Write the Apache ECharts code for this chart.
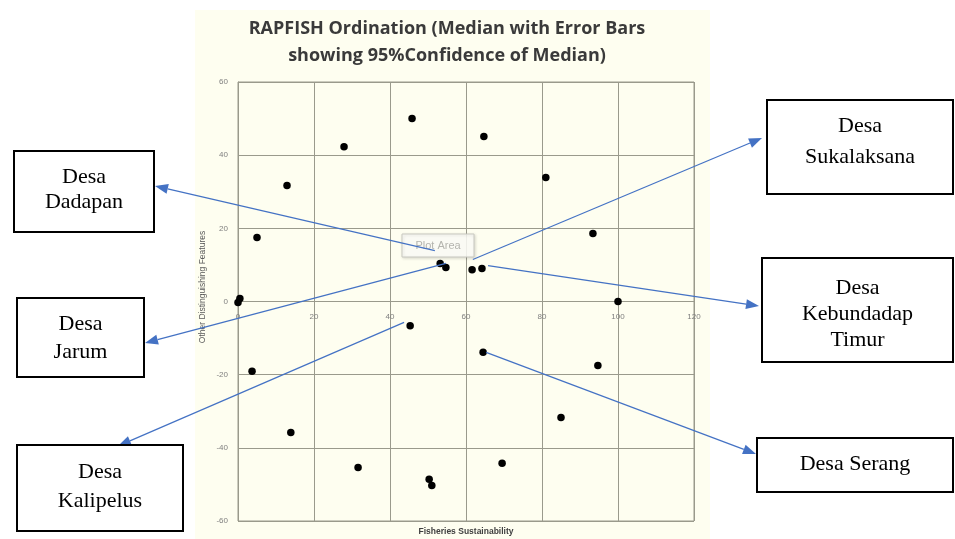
<!DOCTYPE html>
<html>
<head>
<meta charset="utf-8">
<script src="https://cdn.jsdelivr.net/npm/echarts@6/dist/echarts.min.js"></script>
<style>
  html, body { margin: 0; padding: 0; background: #ffffff; }
  #chart { width: 955px; height: 539px; }
</style>
</head>
<body>
<div id="chart"></div>
<script>
// RAPFISH ordination scores: fisheries sustainability (x) vs other distinguishing features (y)
const sustainability = [0.5, 0, 5, 12.9, 27.9, 45.8, 64.7, 81, 93.4, 100,
  53.2, 54.7, 61.6, 64.2, 45.3, 3.7, 13.9, 31.6, 50.3, 51, 64.5, 94.7, 85, 69.5];
const otherFeatures = [0.8, -0.3, 17.5, 31.7, 42.3, 50, 45.1, 33.9, 18.6, 0,
  10.4, 9.3, 8.7, 9.0, -6.6, -19.1, -35.8, -45.4, -48.6, -50.3, -13.9, -17.5, -31.7, -44.2];

const xRange = [0, 120];
const yRange = [-60, 60];
const tickStep = 20;

// Village names shown in the callout boxes
const villages = [
  ['Desa', 'Dadapan'],
  ['Desa', 'Jarum'],
  ['Desa', 'Kalipelus'],
  ['Desa', 'Sukalaksana'],
  ['Desa', 'Kebundadap', 'Timur'],
  ['Desa Serang']
];
// Where each callout arrow starts, in ordination units
const villageAnchors = [
  [51.8, 13.9], [54.7, 10.4], [43.7, -5.7], [61.8, 11.5], [65.8, 9.8], [65.3, -13.9]
];

// Callout box layout (pixels): box rect, arrow tip, text line height
const calloutLayout = [
  { x: 14,  y: 151, w: 140, h: 81,  tip: [155, 186], lh: 25, dy: -2 },
  { x: 17,  y: 298, w: 127, h: 79,  tip: [145, 343], lh: 28, dy: 1 },
  { x: 17,  y: 445, w: 166, h: 86,  tip: [118, 446], lh: 29, dy: -1 },
  { x: 767, y: 100, w: 186, h: 94,  tip: [762, 138], lh: 31, dy: -5 },
  { x: 762, y: 258, w: 191, h: 104, tip: [759, 306], lh: 26, dy: 4 },
  { x: 757, y: 438, w: 196, h: 54,  tip: [756, 454], lh: 26, dy: -1 }
];

const GRID = { left: 238, top: 82, width: 456, height: 439 };
const chart = echarts.init(document.getElementById('chart'), null, { renderer: 'canvas' });
const gridColor = '#9a9a8c';
const tickFont = { fontSize: 8, color: '#7f7f7f', fontFamily: 'Liberation Sans' };

// the category axis crosses the value axis at y = 0
const zeroOffset = -GRID.height * (0 - yRange[0]) / (yRange[1] - yRange[0]);

chart.setOption({
  backgroundColor: '#ffffff',
  animation: false,
  grid: Object.assign({ show: true, borderColor: gridColor, borderWidth: 1, backgroundColor: 'transparent' }, GRID),
  xAxis: {
    type: 'value', min: xRange[0], max: xRange[1], interval: tickStep,
    position: 'bottom', offset: zeroOffset,
    axisLine: { onZero: false, lineStyle: { color: gridColor } },
    axisTick: { show: false },
    axisLabel: Object.assign({ margin: 11 }, tickFont),
    splitLine: { show: true, lineStyle: { color: gridColor, width: 1 } }
  },
  yAxis: {
    type: 'value', min: yRange[0], max: yRange[1], interval: tickStep,
    axisLine: { onZero: false, lineStyle: { color: gridColor } },
    axisTick: { show: false },
    axisLabel: Object.assign({ margin: 10 }, tickFont),
    splitLine: { show: true, lineStyle: { color: gridColor, width: 1 } }
  },
  series: [{
    type: 'scatter',
    data: sustainability.map((v, i) => [v, otherFeatures[i]]),
    symbol: 'circle',
    symbolSize: 7.5,
    itemStyle: { color: '#000000', opacity: 1 },
    z: 5
  }]
});

function arrowHead(sx, sy, tx, ty, len, wid) {
  const dx = tx - sx, dy = ty - sy;
  const d = Math.hypot(dx, dy);
  const ux = dx / d, uy = dy / d;
  const bx = tx - ux * len, by = ty - uy * len;
  const nx = -uy * wid / 2, ny = ux * wid / 2;
  return { base: [bx, by], pts: [[tx, ty], [bx + nx, by + ny], [bx - nx, by - ny]] };
}

const graphics = [];
// pale chart-area background
graphics.push({ type: 'rect', z: -10, shape: { x: 195, y: 10, width: 515, height: 529 }, style: { fill: '#fefef0' }, silent: true });
// title
graphics.push({ type: 'text', z: 10, x: 447, y: 29, style: {
  text: 'RAPFISH Ordination (Median with Error Bars', align: 'center', verticalAlign: 'middle',
  font: 'bold 18px "Open Sans"', fill: '#3a3a3a' } });
graphics.push({ type: 'text', z: 10, x: 447, y: 56, style: {
  text: 'showing 95%Confidence of Median)', align: 'center', verticalAlign: 'middle',
  font: 'bold 18px "Open Sans"', fill: '#3a3a3a' } });
// axis titles
graphics.push({ type: 'text', z: 10, x: 466, y: 532, style: {
  text: 'Fisheries Sustainability', align: 'center', verticalAlign: 'middle',
  font: 'bold 8.5px "Liberation Sans"', fill: '#404040' } });
graphics.push({ type: 'text', z: 10, x: 203, y: 287, rotation: Math.PI / 2, style: {
  text: 'Other Distinguishing Features', align: 'center', verticalAlign: 'middle',
  font: '8.5px "Liberation Sans"', fill: '#595959' } });
// "Plot Area" hover tag
graphics.push({ type: 'rect', z: 8, shape: { x: 402, y: 234, width: 72, height: 23 },
  style: { fill: 'rgba(255,255,250,0.85)', stroke: '#c8c8c0', lineWidth: 1, shadowBlur: 3, shadowColor: 'rgba(0,0,0,0.15)', shadowOffsetX: 1, shadowOffsetY: 1 } });
graphics.push({ type: 'text', z: 9, x: 438, y: 245.5, style: {
  text: 'Plot Area', align: 'center', verticalAlign: 'middle',
  font: '11px "Liberation Sans"', fill: '#b4b4ae' } });

// callouts with arrows
villages.forEach((lines, i) => {
  const L = calloutLayout[i];
  const start = chart.convertToPixel({ gridIndex: 0 }, villageAnchors[i]);
  const a = arrowHead(start[0], start[1], L.tip[0], L.tip[1], 13, 10);
  graphics.push({ type: 'line', z: 20, shape: { x1: start[0], y1: start[1], x2: a.base[0], y2: a.base[1] },
    style: { stroke: '#4472c4', lineWidth: 1.2 } });
  graphics.push({ type: 'polygon', z: 20, shape: { points: a.pts }, style: { fill: '#4472c4' } });
  graphics.push({ type: 'rect', z: 21, shape: { x: L.x, y: L.y, width: L.w, height: L.h },
    style: { fill: '#ffffff', stroke: '#000000', lineWidth: 2 } });
  const cx = L.x + L.w / 2;
  const cy = L.y + L.h / 2 + L.dy;
  lines.forEach((t, k) => {
    graphics.push({ type: 'text', z: 22, x: cx, y: cy + (k - (lines.length - 1) / 2) * L.lh, style: {
      text: t, align: 'center', verticalAlign: 'middle',
      font: '22px "Liberation Serif"', fill: '#000000' } });
  });
});

chart.setOption({ graphic: { elements: graphics } });
</script>
</body>
</html>
